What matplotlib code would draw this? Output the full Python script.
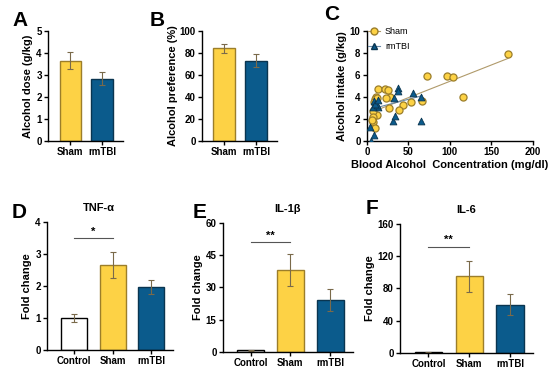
import numpy as np
import matplotlib.pyplot as plt

plt.rcParams['font.family'] = ['Liberation Sans', 'DejaVu Sans']
plt.rcParams['font.weight'] = 'bold'
plt.rcParams['axes.labelweight'] = 'bold'
plt.rcParams['axes.linewidth'] = 1.0

yellow = '#FDD245'
yellow_edge = '#9C7E2A'
blue = '#0B5B8C'
blue_edge = '#0A3550'

# panel A / B
groups_ab = ['Sham', 'rmTBI']
dose_mean = [3.65, 2.83]
dose_err = [0.4, 0.3]
pref_mean = [84, 73]
pref_err = [4, 6]

# panel C
sham_bac = [170, 72, 97, 104, 116, 66, 53, 44, 39, 27, 28, 23, 14, 22, 26,
            11, 10, 12, 8, 7, 7, 10, 9, 12, 6]
sham_int = [7.9, 5.9, 5.9, 5.8, 4.0, 3.6, 3.5, 3.3, 2.8, 3.0, 4.0, 3.9, 4.7, 4.7, 4.6,
            4.0, 3.8, 2.4, 2.7, 2.2, 1.7, 1.2, 3.5, 3.9, 1.9]
tbi_bac = [38, 38, 56, 65, 65, 31, 34, 33, 9, 14, 8, 4, 9, 5, 12, 10, 13]
tbi_int = [4.8, 4.5, 4.4, 4.0, 1.8, 1.8, 2.3, 3.9, 3.6, 3.1, 3.1, 1.3, 0.5, 0.0, 3.3, 3.4, 3.7]
sham_fit = (0.0297, 2.45)   # slope, intercept
tbi_fit = (0.0197, 2.80)
sham_fit_x = [10, 170]
tbi_fit_x = [5, 66]

# panels D-F
groups_def = ['Control', 'Sham', 'rmTBI']
tnf_mean = [1.0, 2.65, 1.97]
tnf_err = [0.12, 0.4, 0.23]
il1_mean = [0.8, 38, 24]
il1_err = [0.3, 7.5, 5.2]
il6_mean = [1.0, 95, 60]
il6_err = [0.5, 19, 13]

fig = plt.figure(figsize=(5.5, 3.72), dpi=100)


def style(ax):
    ax.spines['top'].set_visible(False)
    ax.spines['right'].set_visible(False)
    ax.tick_params(axis='both', labelsize=7, width=1.0, length=3, pad=1.5)
    for t in ax.get_xticklabels() + ax.get_yticklabels():
        t.set_fontweight('bold')


def bars(ax, labels, means, errs, colors, edges):
    x = np.arange(len(labels))
    ax.bar(x, means, width=0.67, color=colors, edgecolor=edges, linewidth=1.0,
           yerr=errs, error_kw=dict(ecolor='#7a6a4a', elinewidth=0.8, capsize=2.5, capthick=0.8))
    ax.set_xticks(x)
    ax.set_xticklabels(labels)
    ax.tick_params(axis='x', length=0, pad=3)
    ax.set_xlim(-0.7, len(labels) - 1 + 0.65)


# A
axA = fig.add_axes([0.0873, 0.621, 0.136, 0.296])
bars(axA, groups_ab, dose_mean, dose_err, [yellow, blue], [yellow_edge, blue_edge])
axA.set_ylim(0, 5)
axA.set_yticks([0, 1, 2, 3, 4, 5])
axA.set_ylabel('Alcohol dose (g/kg)', fontsize=8, labelpad=2)
style(axA)

# B
axB = fig.add_axes([0.367, 0.621, 0.136, 0.296])
bars(axB, groups_ab, pref_mean, pref_err, [yellow, blue], [yellow_edge, blue_edge])
axB.set_ylim(0, 100)
axB.set_yticks([0, 20, 40, 60, 80, 100])
axB.set_ylabel('Alcohol preference (%)', fontsize=8, labelpad=1)
style(axB)

# C
axC = fig.add_axes([0.667, 0.621, 0.302, 0.296])
fx = np.array(sham_fit_x)
axC.plot(fx, sham_fit[0] * fx + sham_fit[1], color='#B09A6A', lw=0.8, zorder=1)
tx = np.array(tbi_fit_x)
axC.plot(tx, tbi_fit[0] * tx + tbi_fit[1], color='#6A8AA8', lw=0.8, zorder=1)
axC.scatter(sham_bac, sham_int, marker='o', s=26, color=yellow, edgecolor=yellow_edge,
            linewidth=0.9, zorder=2)
axC.scatter(tbi_bac, tbi_int, marker='^', s=24, color=blue, edgecolor=blue_edge,
            linewidth=0.6, zorder=3)
axC.plot([], [], marker='o', ms=5, color='#B09A6A', mfc=yellow, mec=yellow_edge, lw=0.8, label='Sham')
axC.plot([], [], marker='^', ms=5, color='#6A8AA8', mfc=blue, mec=blue_edge, lw=0.8, label='rmTBI')
leg = axC.legend(loc='upper left', frameon=False, fontsize=6.5, handlelength=1.4,
                 handletextpad=0.5, borderpad=0.1, borderaxespad=0.0,
                 labelspacing=0.6, bbox_to_anchor=(0.0, 1.04))
for t in leg.get_texts():
    t.set_fontweight('normal')
axC.set_xlim(0, 200)
axC.set_ylim(0, 10)
axC.set_xticks([0, 50, 100, 150, 200])
axC.set_yticks([0, 2, 4, 6, 8, 10])
axC.set_ylabel('Alcohol intake (g/kg)', fontsize=8, labelpad=2)
axC.set_xlabel('Blood Alcohol  Concentration (mg/dl)', fontsize=8, labelpad=2)
style(axC)


def cyto(rect, means, errs, top, ticks, title, sig, star, tx=0.5):
    ax = fig.add_axes(rect)
    bars(ax, groups_def, means, errs, ['white', yellow, blue], ['black', yellow_edge, blue_edge])
    ax.set_xlim(-0.7, 2.56)
    ax.set_ylim(0, top)
    ax.set_yticks(ticks)
    ax.set_ylabel('Fold change', fontsize=8, labelpad=2)
    ax.set_title(title, fontsize=8, fontweight='bold', pad=8, x=tx)
    ax.plot([0, 1], [sig, sig], color='#555555', lw=0.8)
    ax.text(0.5, sig + top * 0.01, star, ha='center', va='bottom', fontsize=8, fontweight='bold')
    style(ax)
    return ax


cyto([0.0855, 0.059, 0.229, 0.344], tnf_mean, tnf_err, 4, [0, 1, 2, 3, 4], 'TNF-α', 3.5, '*', tx=0.41)
cyto([0.405, 0.054, 0.236, 0.347], il1_mean, il1_err, 60, [0, 15, 30, 45, 60], 'IL-1β', 51, '**')
cyto([0.727, 0.051, 0.242, 0.347], il6_mean, il6_err, 160, [0, 40, 80, 120, 160], 'IL-6', 132, '**')

# panel letters
for lx, ly, s in [(0.022, 0.945, 'A'), (0.272, 0.945, 'B'), (0.59, 0.96, 'C'),
                  (0.022, 0.43, 'D'), (0.35, 0.43, 'E'), (0.665, 0.44, 'F')]:
    fig.text(lx, ly, s, fontsize=15, fontweight='bold', va='center')

fig.savefig('out.png', dpi=100)
